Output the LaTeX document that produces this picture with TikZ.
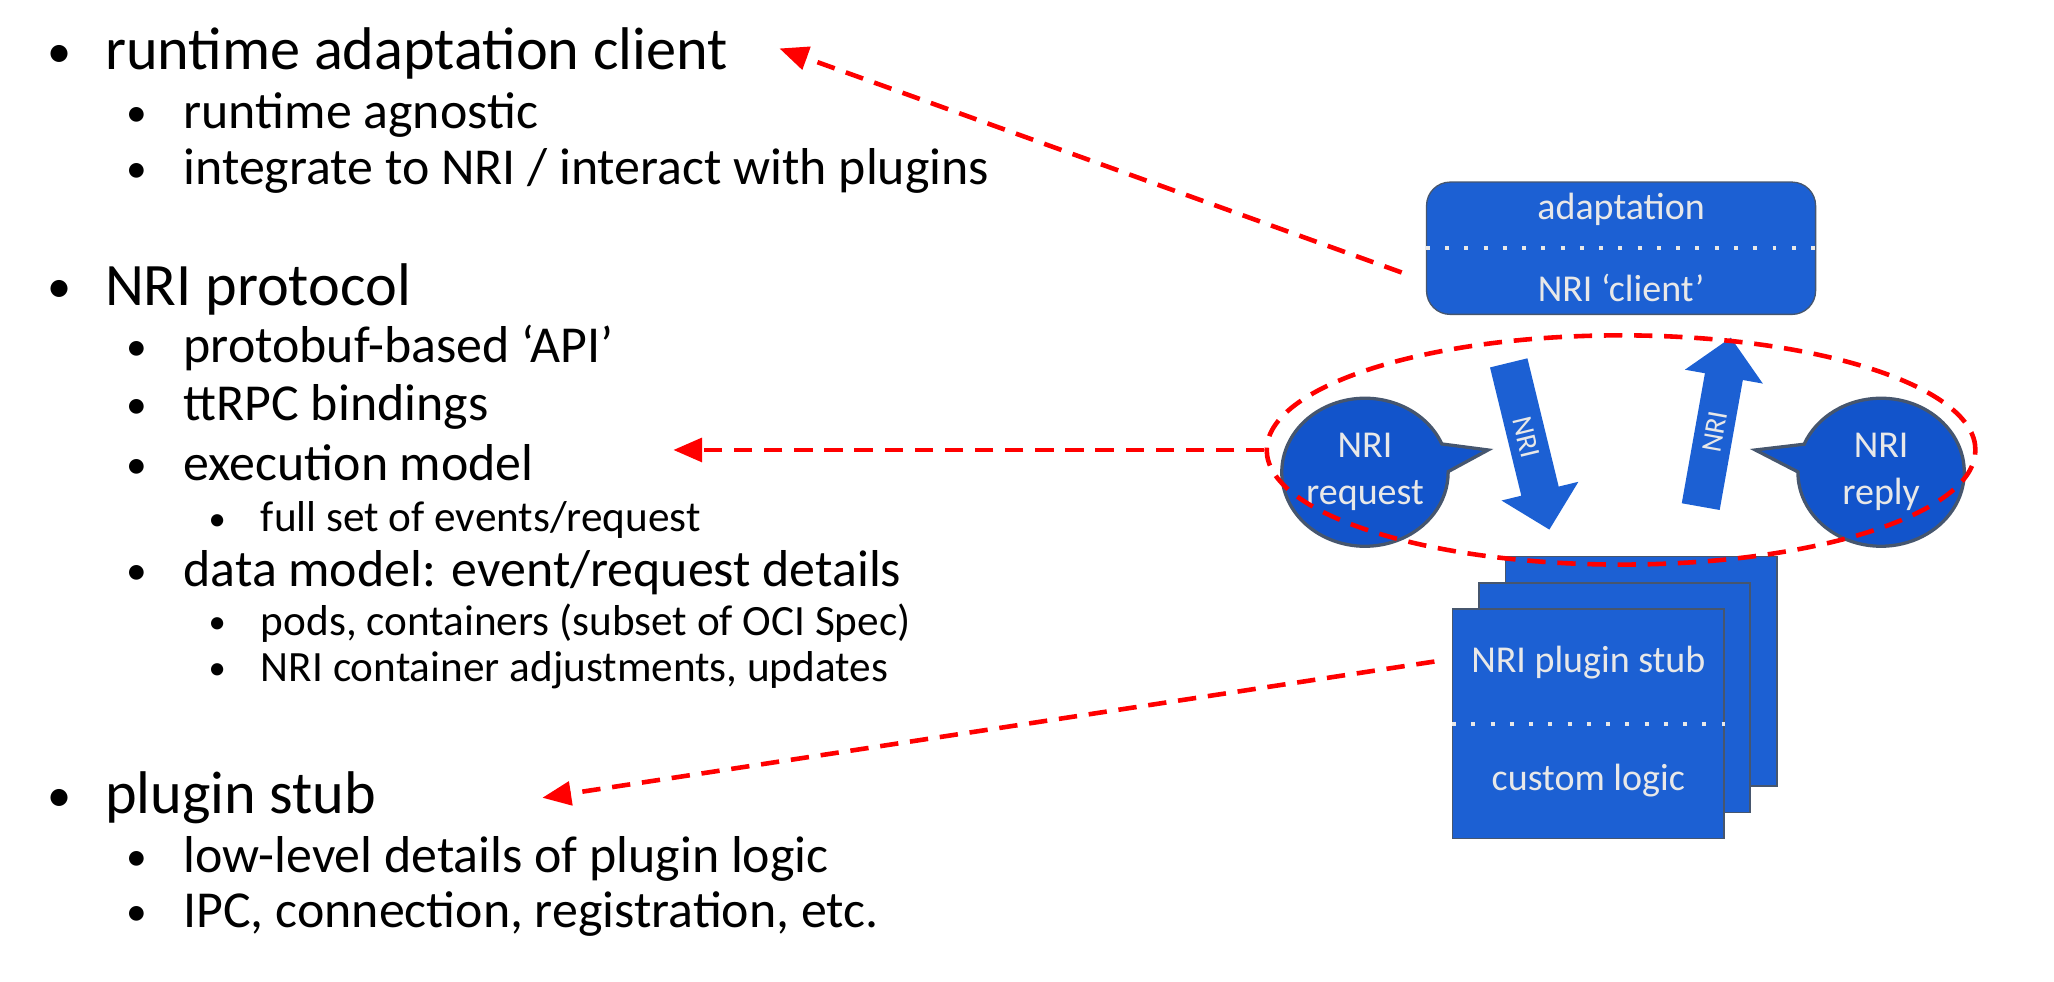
\documentclass[tikz,border=0pt]{standalone}
\usepackage{fontspec}
\setmainfont{Carlito}
\usetikzlibrary{arrows.meta,shapes.geometric,shapes.arrows,shapes.callouts}
\definecolor{boxblue}{RGB}{28,96,211}
\definecolor{bubbleblue}{RGB}{18,84,203}
\definecolor{bordercol}{RGB}{70,86,110}
\definecolor{lighttext}{RGB}{232,232,232}
\definecolor{linered}{RGB}{255,0,0}
\newcommand{\bul}[1]{\makebox[#1][l]{\raisebox{.04em}{\scalebox{.8}{\textbullet}}}}
\begin{document}
\begin{tikzpicture}[x=1pt,y=1pt,
  lvlone/.style={anchor=base west,inner sep=0pt,font=\fontsize{46}{55}\selectfont},
  lvltwo/.style={anchor=base west,inner sep=0pt,font=\fontsize{39.6}{48}\selectfont},
  lvlthree/.style={anchor=base west,inner sep=0pt,font=\fontsize{33}{40}\selectfont},
  bluebox/.style={draw=bordercol,line width=1pt,fill=boxblue,minimum width=207pt,minimum height=175pt,inner sep=0pt},
  boxtext/.style={text=lighttext,inner sep=0pt,font=\fontsize{29}{36}\selectfont},
  dots/.style={draw=lighttext,line width=3pt,dash pattern=on 3pt off 11.7pt},
  bubble/.style={ellipse callout,callout pointer arc=22,draw=bordercol,line width=2.5pt,fill=bubbleblue,
    text=lighttext,align=center,minimum width=127pt,minimum height=113pt,inner sep=0pt,
    font=\fontsize{29}{36}\selectfont},
  bigarrow/.style={single arrow,fill=boxblue,minimum height=131pt,single arrow head extend=15.5pt,
    inner xsep=0pt,inner ysep=7pt,text height=15pt,text depth=0pt,text=lighttext,
    font=\fontsize{22}{26}\selectfont},
  reddash/.style={draw,color=linered,line width=3.5pt,dash pattern=on 14pt off 9pt,
    -{Triangle[length=22pt,width=18pt]}}]
\useasboundingbox (0,0) rectangle (1568,-749.6);

% bullet list
\node[lvlone] (1) at (36,-53.4) {\bul{44pt}runtime adaptation client};
\node[lvltwo] (2) at (96,-98) {\bul{44pt}runtime agnostic};
\node[lvltwo] (3) at (96,-141) {\bul{44pt}integrate to NRI / interact with plugins};
\node[lvlone] (4) at (36,-233) {\bul{44pt}NRI protocol};
\node[lvltwo] (5) at (96,-277) {\bul{44pt}protobuf-based ‘API’};
\node[lvltwo] (6) at (96,-321) {\bul{44pt}ttRPC bindings};
\node[lvltwo] (7) at (96,-367) {\bul{44pt}execution model};
\node[lvlthree] (8) at (159,-406) {\bul{40pt}full set of events/request};
\node[lvltwo] (9) at (96,-448) {\bul{44pt}data model: event/request details};
\node[lvlthree] (10) at (159,-485) {\bul{40pt}pods, containers (subset of OCI Spec)};
\node[lvlthree] (11) at (159,-520) {\bul{40pt}NRI container adjustments, updates};
\node[lvlone] (12) at (36,-621) {\bul{44pt}plugin stub};
\node[lvltwo] (13) at (96,-666) {\bul{44pt}low-level details of plugin logic};
\node[lvltwo] (14) at (96,-708) {\bul{44pt}IPC, connection, registration, etc.};

% adaptation client
\node[bluebox,rounded corners=18pt,minimum width=297pt,minimum height=101pt] (15) at (1237.5,-189.5) {};
\node[boxtext] (16) at (1237.5,-160) {adaptation};
\node[boxtext] (17) at (1237.5,-220) {NRI ‘client’};
\draw[dots] (15.west) -- (15.east);

% plugin stubs
\node[bluebox] (18) at (1253,-512.5) {};
\node[bluebox] (19) at (1232.5,-532.5) {};
\node[bluebox] (20) at (1212.5,-552.5) {};
\node[boxtext] (21) at (1212.5,-506) {NRI plugin stub};
\node[boxtext] (22) at (1212.5,-596) {custom logic};
\draw[dots] (20.west) -- (20.east);

% protocol messages
\node[bigarrow,rotate=-76.3] (23) at (1165.5,-333.5) {NRI\hspace{26pt}};
\node[bigarrow,rotate=79.9] (24) at (1308.5,-329.5) {NRI\hspace{20pt}};
\node[bubble,callout absolute pointer={(1136,-343.5)}] (25) at (1042,-360.5) {NRI\\request};
\node[bubble,callout absolute pointer={(1340,-343.5)}] (26) at (1436,-360.5) {NRI\\reply};
\node[ellipse,draw=linered,line width=3.5pt,dash pattern=on 14pt off 9pt,
  minimum width=541pt,minimum height=175pt,inner sep=0pt] (27) at (1237.5,-343.5) {};

% pointers to the list
\coordinate (a) at (1070,-208);
\coordinate (b) at (595,-37);
\coordinate (c) at (514,-343.5);
\coordinate (d) at (1095,-505);
\coordinate (e) at (414,-609);
\path[]
    (a) edge[reddash] (b)
    (27.west) edge[reddash] (c)
    (d) edge[reddash] (e);
\end{tikzpicture}
\end{document}
